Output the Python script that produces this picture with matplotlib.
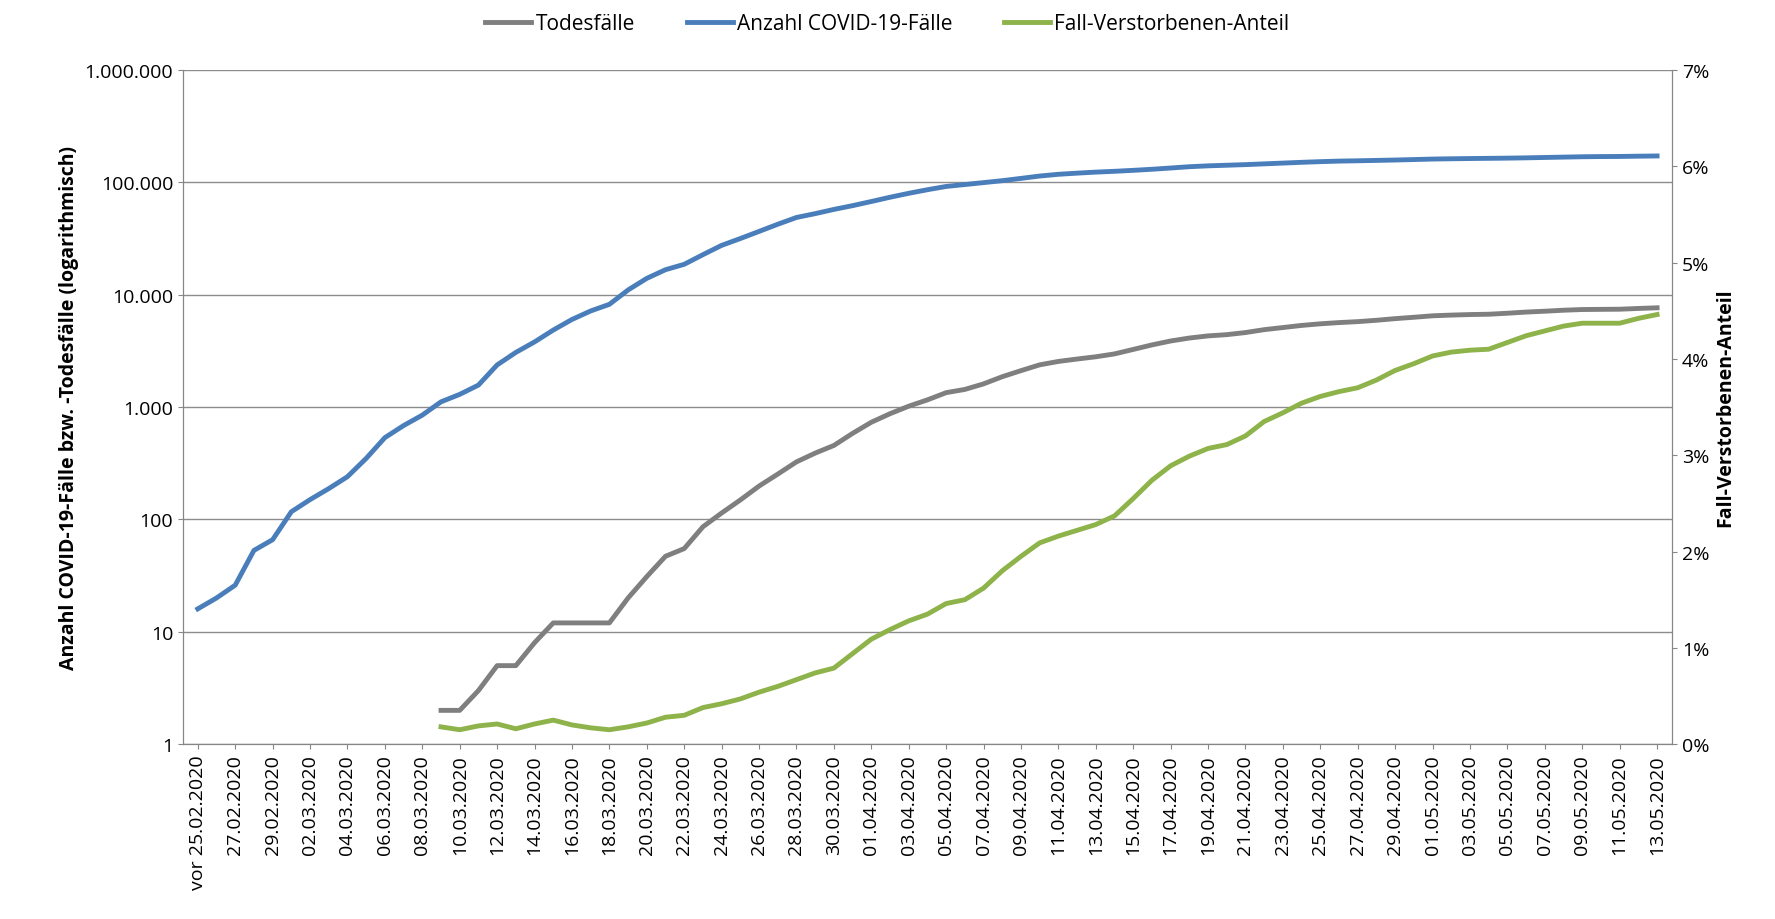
import numpy as np
import matplotlib.pyplot as plt
import matplotlib.ticker as ticker
import datetime as dt

# dates: "vor 25.02.2020", then 26.02.2020 .. 13.05.2020
start = dt.date(2020, 2, 26)
dates = ["vor 25.02.2020"] + [(start + dt.timedelta(days=i)).strftime("%d.%m.%Y") for i in range(78)]

cases = [16, 20, 26, 53, 66, 117, 150, 188, 240, 349, 534, 684, 847, 1112, 1296, 1567,
         2369, 3062, 3795, 4838, 6012, 7156, 8198, 10999, 13957, 16662, 18610, 22672,
         27436, 31554, 36508, 42288, 48582, 52547, 57298, 61913, 67366, 73522, 79696,
         85778, 91714, 95391, 99225, 103228, 108202, 113525, 117658, 120479, 123016,
         125098, 127584, 130450, 133830, 137439, 139897, 141672, 143457, 145694, 148046,
         150383, 152438, 154175, 155193, 156337, 157641, 159119, 160758, 161703, 162496,
         163160, 163860, 164807, 166091, 167300, 168551, 169218, 169575, 170508, 171306]

deaths = [np.nan] * 13 + [2, 2, 3, 5, 5, 8, 12, 12, 12, 12, 20, 31, 47, 55, 86, 114, 149,
          198, 253, 325, 389, 455, 583, 732, 872, 1017, 1158, 1342, 1434, 1607, 1861, 2107,
          2373, 2544, 2673, 2799, 2969, 3254, 3569, 3868, 4110, 4294, 4404, 4598, 4879,
          5094, 5321, 5500, 5640, 5750, 5913, 6115, 6288, 6481, 6575, 6649, 6692, 6831,
          6996, 7119, 7266, 7369, 7395, 7417, 7533, 7634]

ratio = [np.nan] * 13 + [0.18, 0.15, 0.19, 0.21, 0.16, 0.21, 0.25, 0.20, 0.17, 0.15, 0.18,
         0.22, 0.28, 0.30, 0.38, 0.42, 0.47, 0.54, 0.60, 0.67, 0.74, 0.79, 0.94, 1.09, 1.19,
         1.28, 1.35, 1.46, 1.50, 1.62, 1.80, 1.95, 2.09, 2.16, 2.22, 2.28, 2.37, 2.55, 2.74,
         2.89, 2.99, 3.07, 3.11, 3.20, 3.35, 3.44, 3.54, 3.61, 3.66, 3.70, 3.78, 3.88, 3.95,
         4.03, 4.07, 4.09, 4.10, 4.17, 4.24, 4.29, 4.34, 4.37, 4.37, 4.37, 4.42, 4.46]

plt.rcParams['font.family'] = ['Open Sans', 'DejaVu Sans']
plt.rcParams['font.size'] = 14

x = np.arange(len(dates))
fig = plt.figure(figsize=(17.75, 9.2), dpi=100)
ax = fig.add_axes([0.103, 0.19, 0.839, 0.733])
ax2 = ax.twinx()

l1, = ax.plot(x, deaths, color="#7f7f7f", lw=3.5, label="Todesfälle")
l2, = ax.plot(x, cases, color="#4a7ebb", lw=3.5, label="Anzahl COVID-19-Fälle")
l3, = ax2.plot(x, ratio, color="#8db34a", lw=3.5, label="Fall-Verstorbenen-Anteil")

ax.set_yscale("log")
ax.set_ylim(1, 1e6)
ax.yaxis.set_major_formatter(ticker.FuncFormatter(lambda v, p: f"{int(round(v)):,}".replace(",", ".")))
ax.yaxis.set_minor_locator(ticker.NullLocator())
ax.grid(axis="y", color="#8c8c8c", lw=1)
ax.set_axisbelow(True)
ax.set_xlim(-0.8, len(dates) - 0.2)
ax.set_xticks(x[::2])
ax.set_xticklabels(dates[::2], rotation=90)
ax.set_ylabel("Anzahl COVID-19-Fälle bzw. -Todesfälle (logarithmisch)", fontweight="bold", fontsize=14)

ax2.set_ylim(0, 7)
ax2.yaxis.set_major_formatter(ticker.FuncFormatter(lambda v, p: f"{int(round(v))}%"))
ax2.set_ylabel("Fall-Verstorbenen-Anteil", fontweight="bold", fontsize=14)

for a in (ax, ax2):
    for s in a.spines.values():
        s.set_color("#868686")
    a.spines["top"].set_visible(False)
    a.tick_params(color="#868686", labelsize=14)

fig.legend(handles=[l1, l2, l3], loc="upper center", bbox_to_anchor=(0.5, 1.005), ncol=3,
           frameon=False, fontsize=15, handlelength=2.2, handletextpad=0.2, columnspacing=2.5)
fig.savefig("out.png")
